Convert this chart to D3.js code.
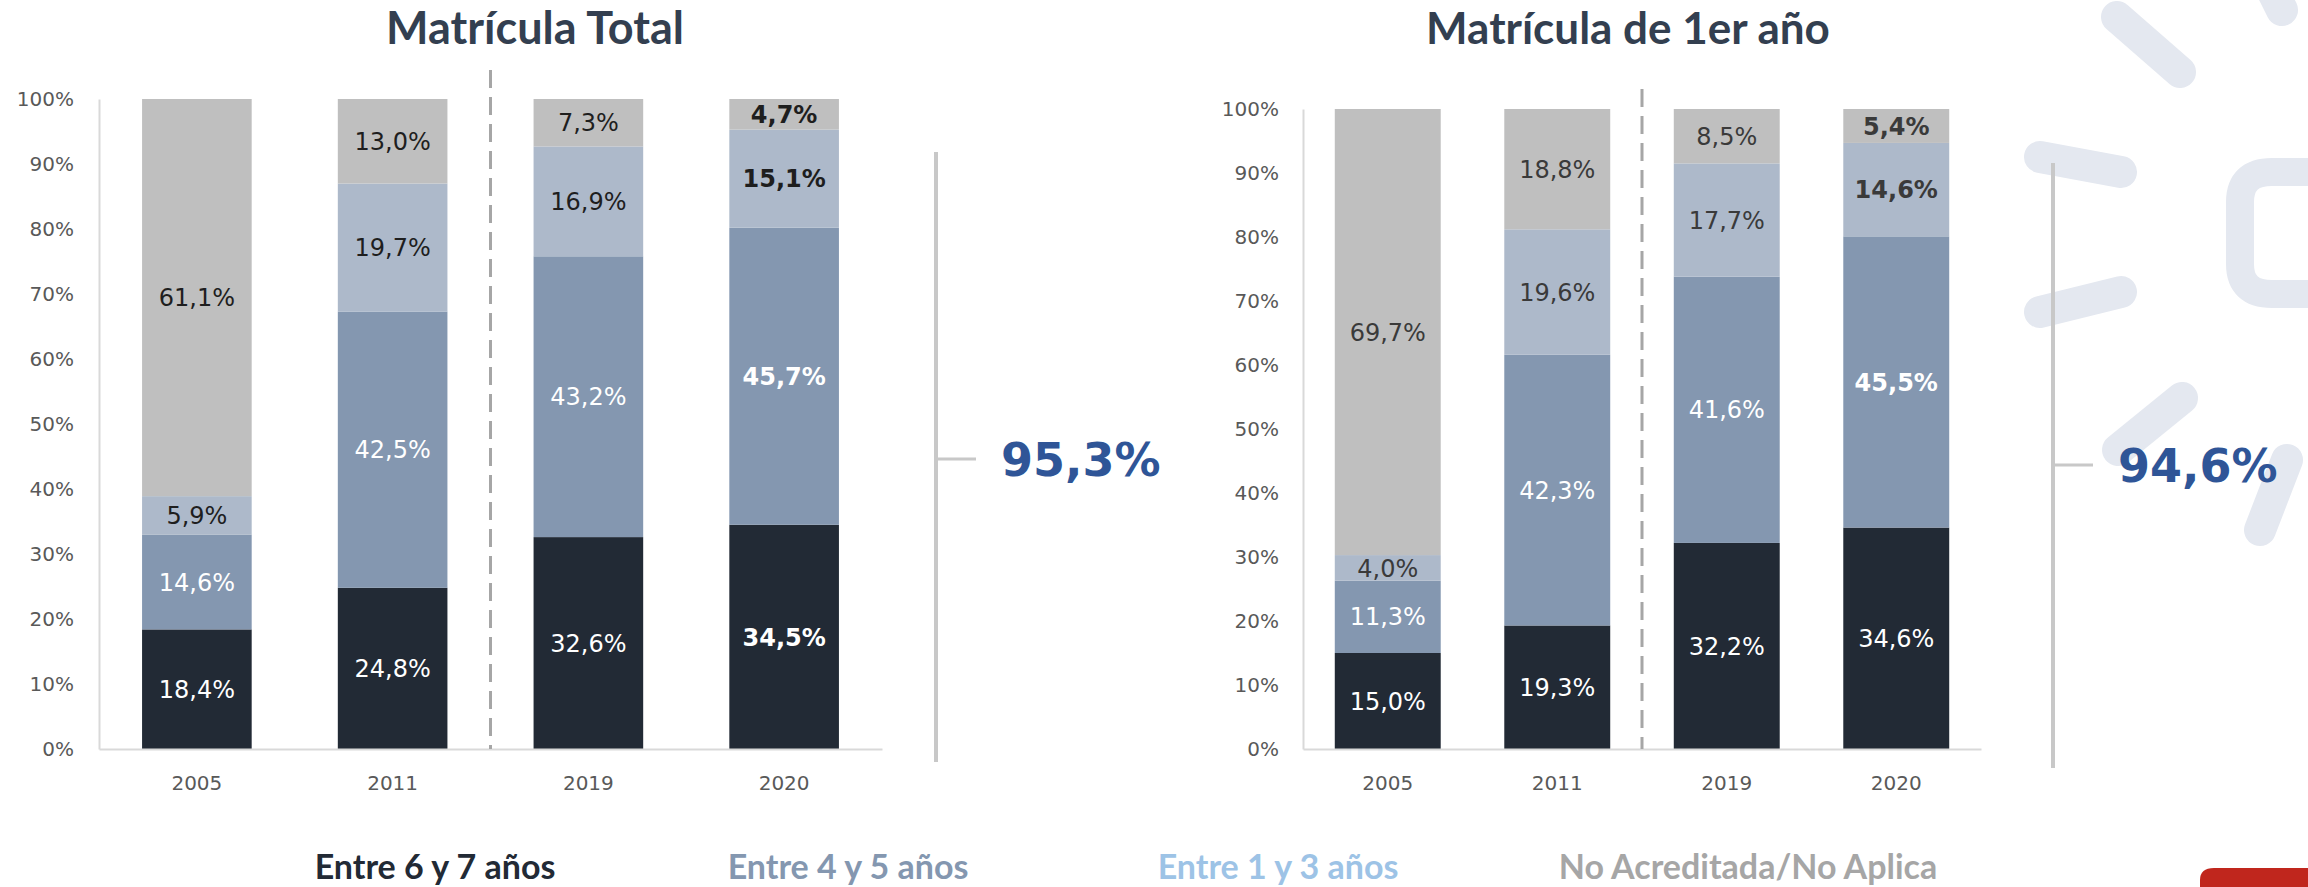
<!DOCTYPE html>
<html>
<head>
<meta charset="utf-8">
<script src="https://cdn.jsdelivr.net/npm/d3@7"></script>
<style>
  body { margin: 0; background: #fff; }
  svg { display: block; }
</style>
</head>
<body>
<svg id="chart" width="2308" height="887"></svg>
<script>
// data
var years = ["2005", "2011", "2019", "2020"];
var seriesNames = ["Entre 6 y 7 años", "Entre 4 y 5 años", "Entre 1 y 3 años", "No Acreditada/No Aplica"];
var seriesColors = ["#222a35", "#8497b0", "#adb9ca", "#bfbfbf"];
var legendColors = ["#222a35", "#8497b0", "#9dc3e6", "#a6a6a6"];

// Matrícula Total
var total6a7 = [18.4, 24.8, 32.6, 34.5];
var total4a5 = [14.6, 42.5, 43.2, 45.7];
var total1a3 = [5.9, 19.7, 16.9, 15.1];
var totalNA  = [61.1, 13.0, 7.3, 4.7];

// Matrícula de 1er año
var primer6a7 = [15.0, 19.3, 32.2, 34.6];
var primer4a5 = [11.3, 42.3, 41.6, 45.5];
var primer1a3 = [4.0, 19.6, 17.7, 14.6];
var primerNA  = [69.7, 18.8, 8.5, 5.4];

var yTicks = [0, 10, 20, 30, 40, 50, 60, 70, 80, 90, 100];
var acreditadaTotal = "95,3%";
var acreditadaPrimer = "94,6%";

var svg = d3.select("#chart");

// watermark in the corner
var deco = svg.append("g")
    .attr("stroke", "#e4e8f0")
    .attr("stroke-linecap", "round")
    .attr("fill", "none");
var pills = [
    [2117, 17, 2180, 72],
    [2040, 157, 2121, 172],
    [2040, 312, 2121, 292],
    [2118, 450, 2182, 398],
    [2287, 460, 2260, 530],
    [2262, -30, 2282, 10]
];
pills.forEach(function(p) {
    deco.append("line")
        .attr("x1", p[0]).attr("y1", p[1])
        .attr("x2", p[2]).attr("y2", p[3])
        .attr("stroke-width", 32);
});
deco.append("path")
    .attr("d", "M2320,172 L2272,172 Q2240,172 2240,202 L2240,264 Q2240,294 2272,294 L2320,294")
    .attr("stroke-width", 28)
    .attr("stroke-linecap", "butt");

// red tab bottom right
svg.append("path")
    .attr("d", "M2200,887 L2200,880 Q2200,868 2214,868 L2308,868 L2308,887 Z")
    .attr("fill", "#c0261d");

function toNum(v) { return v.toFixed(1).replace(".", ","); }

function drawChart(o) {
    var g = svg.append("g");
    var rows = years.map(function(yr, i) {
        return { year: yr, s0: o.vals[0][i], s1: o.vals[1][i], s2: o.vals[2][i], s3: o.vals[3][i] };
    });
    var keys = ["s0", "s1", "s2", "s3"];
    var stacked = d3.stack().keys(keys)(rows);

    var x = d3.scaleBand()
        .domain(years)
        .range([o.x0, o.x1])
        .paddingInner(o.pad)
        .paddingOuter(o.pad / 2);
    var y = d3.scaleLinear().domain([0, 100]).range([o.yBot, o.yTop]);

    // title
    g.append("text")
        .attr("x", o.titleX)
        .attr("y", o.titleY)
        .attr("text-anchor", "middle")
        .attr("font-family", "Lato, sans-serif")
        .attr("font-weight", "bold")
        .attr("font-size", o.titleSize + "px")
        .attr("fill", "#333f50")
        .text(o.title);

    // bars
    var layers = g.selectAll(".layer")
        .data(stacked)
        .enter().append("g")
        .attr("fill", function(d, i) { return seriesColors[i]; });

    layers.selectAll("rect")
        .data(function(d) { return d; })
        .enter().append("rect")
        .attr("x", function(d) { return x(d.data.year); })
        .attr("width", x.bandwidth())
        .attr("y", function(d) { return y(Math.min(d[1], 100)); })
        .attr("height", function(d) { return y(d[0]) - y(Math.min(d[1], 100)); });

    // labels
    stacked.forEach(function(layer, li) {
        layer.forEach(function(d, bi) {
            var top = Math.min(d[1], 100);
            var bold = o.bold[li][bi];
            g.append("text")
                .attr("x", x(d.data.year) + x.bandwidth() / 2)
                .attr("y", y((d[0] + top) / 2))
                .attr("dy", "0.36em")
                .attr("text-anchor", "middle")
                .attr("font-family", "'DejaVu Sans', sans-serif")
                .attr("font-size", "24px")
                .attr("font-weight", bold ? "bold" : "normal")
                .attr("fill", li < 2 ? "#ffffff" : o.darkLabel)
                .text(toNum(d[1] - d[0]) + "%");
        });
    });

    // axes
    var yAxis = g.append("g")
        .attr("transform", "translate(" + o.x0 + ",0)")
        .call(d3.axisLeft(y).tickValues(yTicks).tickFormat(function(d) { return d + "%"; })
            .tickSize(0).tickPadding(o.tickPad));
    yAxis.select(".domain").attr("stroke", "#d9d9d9").attr("stroke-width", 2);
    yAxis.selectAll("text")
        .attr("font-family", "'DejaVu Sans', sans-serif")
        .attr("font-size", "20px")
        .attr("fill", "#595959");

    var xAxis = g.append("g")
        .attr("transform", "translate(0," + o.yBot + ")")
        .call(d3.axisBottom(x).tickSize(0).tickPadding(27));
    xAxis.select(".domain").attr("stroke", "#d9d9d9").attr("stroke-width", 2);
    xAxis.selectAll("text")
        .attr("font-family", "'DejaVu Sans', sans-serif")
        .attr("font-size", "20px")
        .attr("fill", "#595959");

    // dashed separator between 2011 and 2019
    var sepX = (x("2011") + x.bandwidth() + x("2019")) / 2;
    g.append("line")
        .attr("x1", sepX).attr("x2", sepX)
        .attr("y1", o.dashTop).attr("y2", o.yBot)
        .attr("stroke", "#a6a6a6")
        .attr("stroke-width", 3)
        .attr("stroke-dasharray", "18,9");

    // bracket + total accredited
    g.append("line")
        .attr("x1", o.brX).attr("x2", o.brX)
        .attr("y1", o.brTop).attr("y2", o.brBot)
        .attr("stroke", "#c8c8c8").attr("stroke-width", 4);
    g.append("line")
        .attr("x1", o.brX).attr("x2", o.brX + 40)
        .attr("y1", o.brMid).attr("y2", o.brMid)
        .attr("stroke", "#c8c8c8").attr("stroke-width", 3);
    g.append("text")
        .attr("x", o.brX + 65)
        .attr("y", o.brMid)
        .attr("dy", "0.36em")
        .attr("font-family", "'DejaVu Sans', sans-serif")
        .attr("font-weight", "bold")
        .attr("font-size", "46px")
        .attr("fill", "#2f5597")
        .text(o.highlight);
}

drawChart({
    title: "Matrícula Total",
    titleX: 535, titleY: 44, titleSize: 45,
    vals: [total6a7, total4a5, total1a3, totalNA],
    bold: [[0, 0, 0, 1], [0, 0, 0, 1], [0, 0, 0, 1], [0, 0, 0, 1]],
    darkLabel: "#1e1e1e",
    x0: 99, x1: 882, pad: 0.44,
    yTop: 99, yBot: 749,
    tickPad: 25,
    dashTop: 70,
    brX: 936, brTop: 152, brBot: 762, brMid: 459,
    highlight: acreditadaTotal
});

drawChart({
    title: "Matrícula de 1er año",
    titleX: 1628, titleY: 44, titleSize: 44,
    vals: [primer6a7, primer4a5, primer1a3, primerNA],
    bold: [[0, 0, 0, 0], [0, 0, 0, 1], [0, 0, 0, 1], [0, 0, 0, 1]],
    darkLabel: "#3a3a3a",
    x0: 1303, x1: 1981, pad: 0.375,
    yTop: 109, yBot: 749,
    tickPad: 24,
    dashTop: 89,
    brX: 2053, brTop: 163, brBot: 768, brMid: 465,
    highlight: acreditadaPrimer
});

// legend, items centred
var legendX = [435, 848, 1278, 1748];
svg.append("g").selectAll("text")
    .data(seriesNames)
    .enter().append("text")
    .attr("x", function(d, i) { return legendX[i]; })
    .attr("y", 879)
    .attr("text-anchor", "middle")
    .attr("font-family", "Lato, sans-serif")
    .attr("font-weight", "bold")
    .attr("font-size", "34px")
    .attr("fill", function(d, i) { return legendColors[i]; })
    .text(function(d) { return d; });
</script>
</body>
</html>
